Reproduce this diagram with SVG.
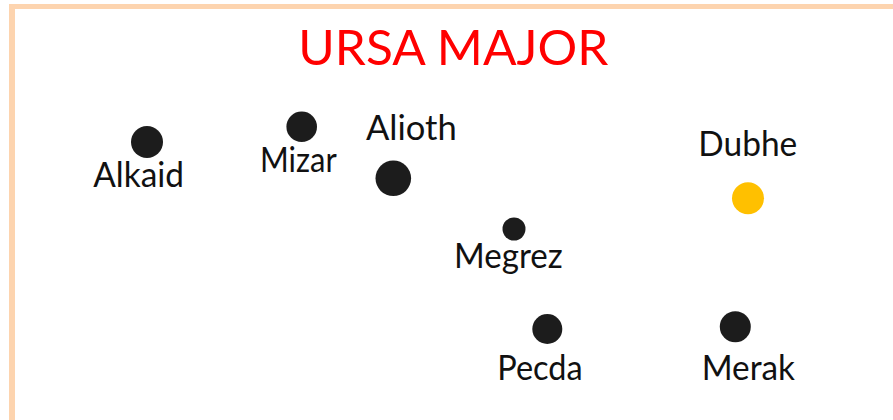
<svg xmlns="http://www.w3.org/2000/svg" width="893" height="420" viewBox="0 0 893 420">
  <style>
    .lbl { font-family: "Lato", "Open Sans", "Liberation Sans", sans-serif; font-size: 35px; fill: #111111; }
    .title { font-family: "Lato", "Open Sans", "Liberation Sans", sans-serif; font-size: 49px; fill: #FF0000; }
    .star { fill: #1e1e1e; filter: url(#soft); }
    .frame { fill: #FDD4AF; }
  </style>
  <defs>
    <filter id="soft" x="-20%" y="-20%" width="140%" height="140%">
      <feGaussianBlur stdDeviation="0.7"/>
    </filter>
  </defs>
  <rect width="893" height="420" fill="#ffffff"/>
  <g id="frame">
    <rect class="frame" x="9" y="4" width="884" height="5"/>
    <rect class="frame" x="9" y="4" width="6" height="416"/>
  </g>
  <g id="title">
    <text class="title" x="298.3" y="65" textLength="310" lengthAdjust="spacingAndGlyphs">URSA MAJOR</text>
  </g>
  <g id="alkaid">
    <circle class="star" cx="147" cy="142" r="16"/>
    <text class="lbl" x="93.3" y="186.7" textLength="90.7" lengthAdjust="spacingAndGlyphs">Alkaid</text>
  </g>
  <g id="mizar">
    <circle class="star" cx="301.7" cy="126.7" r="15.3"/>
    <text class="lbl" x="260" y="172.3" textLength="76.7" lengthAdjust="spacingAndGlyphs">Mizar</text>
  </g>
  <g id="alioth">
    <circle class="star" cx="393.3" cy="178.3" r="17.8"/>
    <text class="lbl" x="366" y="140" textLength="90.7" lengthAdjust="spacingAndGlyphs">Alioth</text>
  </g>
  <g id="megrez">
    <circle class="star" cx="514" cy="229" r="11.5"/>
    <text class="lbl" x="454" y="268.3" textLength="108.7" lengthAdjust="spacingAndGlyphs">Megrez</text>
  </g>
  <g id="pecda">
    <circle class="star" cx="547.3" cy="329" r="15"/>
    <text class="lbl" x="497.3" y="380" textLength="85.4" lengthAdjust="spacingAndGlyphs">Pecda</text>
  </g>
  <g id="merak">
    <circle class="star" cx="735.3" cy="326.7" r="15.5"/>
    <text class="lbl" x="701.7" y="380" textLength="93.3" lengthAdjust="spacingAndGlyphs">Merak</text>
  </g>
  <g id="dubhe">
    <circle cx="748" cy="198.3" r="16" fill="#FFC000"/>
    <text class="lbl" x="698.3" y="156" textLength="99" lengthAdjust="spacingAndGlyphs">Dubhe</text>
  </g>
</svg>
